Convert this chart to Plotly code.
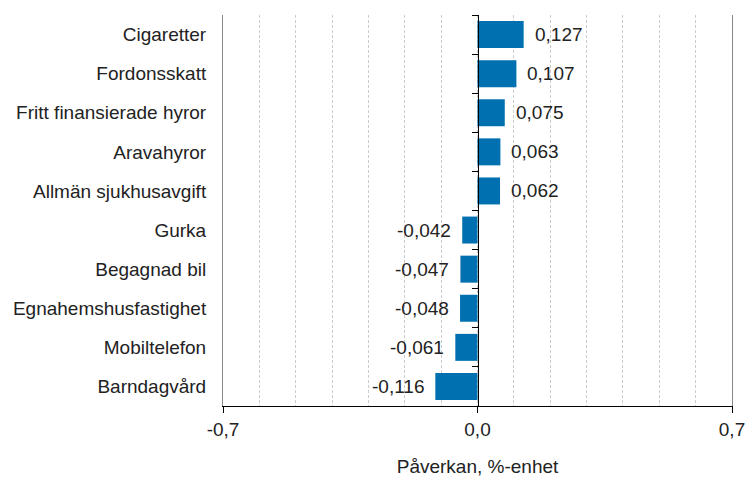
import plotly.graph_objects as go

categories = ["Cigaretter", "Fordonsskatt", "Fritt finansierade hyror", "Aravahyror",
              "Allmän sjukhusavgift", "Gurka", "Begagnad bil", "Egnahemshusfastighet",
              "Mobiltelefon", "Barndagvård"]
values = [0.127, 0.107, 0.075, 0.063, 0.062, -0.042, -0.047, -0.048, -0.061, -0.116]
tick_vals = [-0.7, 0.0, 0.7]
tick_text = ["-0,7", "0,0", "0,7"]
x_title = "Påverkan, %-enhet"

FONT = "Liberation Sans, Arial, sans-serif"
FS = 19
BLUE = "#0070B0"

fig = go.Figure()
fig.add_trace(go.Bar(x=values, y=categories, orientation="h",
                     marker=dict(color=BLUE, line=dict(width=0)),
                     hoverinfo="skip", cliponaxis=False))
fig.add_trace(go.Scatter(x=[0] * len(categories), y=categories, yaxis="y2",
                         mode="markers", marker=dict(opacity=0),
                         hoverinfo="skip", showlegend=False))

for v, c in zip(values, categories):
    s = f"{v:.3f}".replace(".", ",")
    fig.add_annotation(x=v, y=c, text=s, showarrow=False,
                       xanchor="left" if v >= 0 else "right",
                       xshift=9 if v >= 0 else -9,
                       font=dict(family=FONT, size=FS, color="#222"))

n = len(categories)
fig.update_layout(
    width=747, height=481,
    margin=dict(l=223, r=15, t=15, b=75, autoexpand=False),
    plot_bgcolor="white", paper_bgcolor="white",
    showlegend=False, bargap=0.31,
    font=dict(family=FONT, size=FS, color="#222"),
    xaxis=dict(range=[-0.7, 0.7], tickvals=tick_vals, ticktext=tick_text,
               showgrid=False, zeroline=False, automargin=False,
               showline=True, linecolor="black", linewidth=1,
               ticks="outside", ticklen=6, tickcolor="black",
               title=dict(text=x_title, standoff=20,
                          font=dict(family=FONT, size=FS, color="#222")),
               minor=dict(tick0=0, dtick=0.1, showgrid=True,
                          gridcolor="#cccccc", griddash="3px,2px", gridwidth=1, ticks="")),
    yaxis=dict(range=[n - 0.5, -0.5], showgrid=False, zeroline=False, automargin=False,
               showline=True, mirror=True, linecolor="#8a8a8a", linewidth=1,
               ticks="outside", ticklen=12, tickcolor="rgba(0,0,0,0)"),
    yaxis2=dict(overlaying="y", anchor="free", position=0.5, side="left",
                range=[n - 0.5, -0.5], showgrid=False, zeroline=False, automargin=False,
                showline=True, linecolor="black", linewidth=1,
                ticks="outside", ticklen=6, tickcolor="black",
                tickson="boundaries", showticklabels=False),
)

fig.write_html("out.html", config={"displayModeBar": False},
               post_script="document.body.style.margin='0';document.body.style.overflow='hidden';")
